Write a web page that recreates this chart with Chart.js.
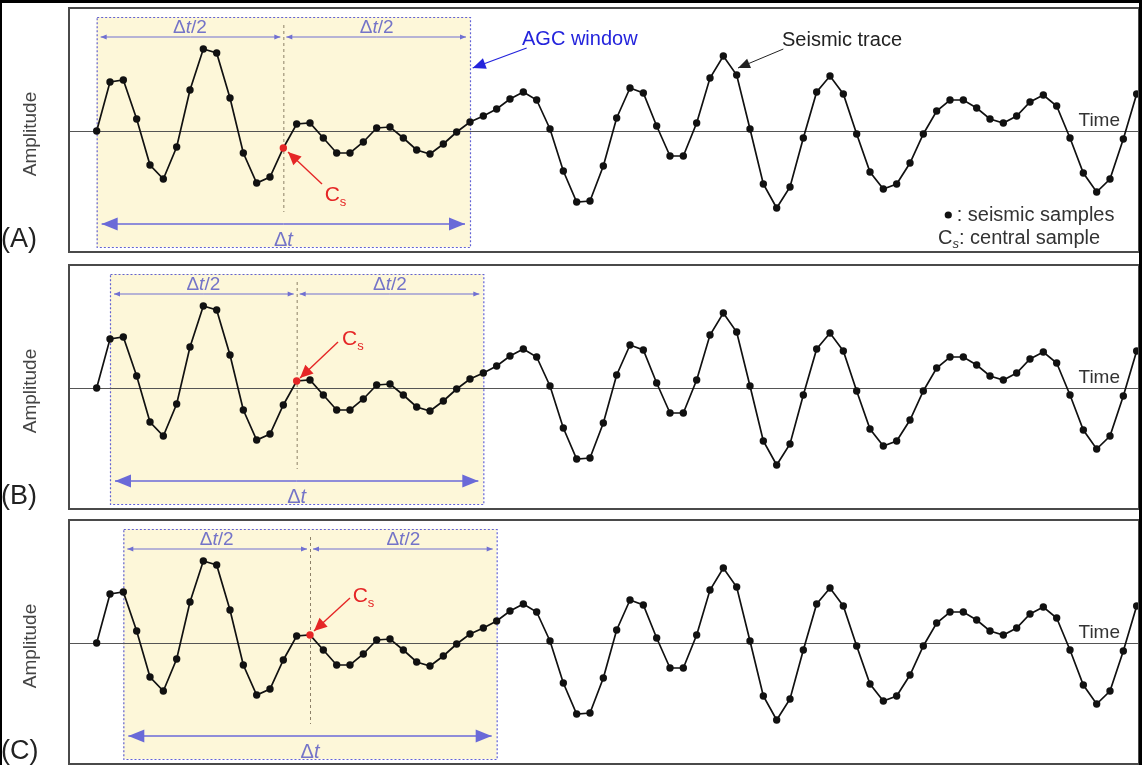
<!DOCTYPE html>
<html lang="en">
<head>
<meta charset="UTF-8">
<title>AGC window on a seismic trace</title>
<script src="https://cdn.jsdelivr.net/npm/chart.js"></script>
<style>
  body { margin: 0; background: #fff; }
  #sheet { position: relative; width: 1142px; height: 765px; overflow: hidden; background: #fff; }
  .panel { position: absolute; left: 0; width: 1142px; height: 255px; }
  #edge { position: absolute; left: 0; top: 0; width: 1142px; height: 765px; box-sizing: border-box;
          border-top: 3px solid #000; border-left: 2px solid #000; border-right: 3px solid #000; pointer-events: none; }
</style>
</head>
<body>
<div id="sheet">
  <div class="panel" style="top:0px"><canvas id="panelA" width="1142" height="255"></canvas></div>
  <div class="panel" style="top:257px"><canvas id="panelB" width="1142" height="255"></canvas></div>
  <div class="panel" style="top:512px"><canvas id="panelC" width="1142" height="255"></canvas></div>
  <div id="edge"></div>
</div>
<script>
// seismic trace, one value per sample (same trace in the three panels)
const amplitude = [0, 49, 51, 12, -34, -48, -16, 41, 82, 78,
                   33, -22, -52, -46, -17, 7, 8, -7, -22, -22,
                   -11, 3, 4, -7, -19, -23, -13, -1, 9, 15,
                   22, 32, 39, 31, 2, -40, -71, -70, -35, 13,
                   43, 38, 5, -25, -25, 8, 53, 75, 56, 2,
                   -53, -77, -56, -7, 39, 55, 37, -3, -41, -58,
                   -53, -32, -3, 20, 31, 31, 23, 12, 8, 15,
                   29, 36, 25, -7, -42, -61, -48, -8, 37];

const panelLabels = ['(A)', '(B)', '(C)'];
const windowStart = [0, 1, 2];      // first sample inside the AGC window
const windowLength = 28;            // samples
const centralSample = [14, 15, 16];

const FONT = '"Liberation Sans", Arial, sans-serif';

function head(ctx, x1, y1, x2, y2, len, half) {
  const a = Math.atan2(y2 - y1, x2 - x1);
  const bx = x2 - len * Math.cos(a), by = y2 - len * Math.sin(a);
  ctx.beginPath();
  ctx.moveTo(x2, y2);
  ctx.lineTo(bx + half * Math.sin(a), by - half * Math.cos(a));
  ctx.lineTo(bx - half * Math.sin(a), by + half * Math.cos(a));
  ctx.closePath();
  ctx.fill();
}

function arrow(ctx, x1, y1, x2, y2, color, width, len, half) {
  ctx.save();
  ctx.strokeStyle = color; ctx.fillStyle = color; ctx.lineWidth = width;
  ctx.beginPath(); ctx.moveTo(x1, y1); ctx.lineTo(x2, y2); ctx.stroke();
  head(ctx, x1, y1, x2, y2, len, half);
  ctx.restore();
}

// writes pieces [text, font, dy] one after another; align 'left' or 'center'
function pieces(ctx, list, x, y, align) {
  let w = 0;
  list.forEach(p => { ctx.font = p[1]; w += ctx.measureText(p[0]).width; });
  let cx = align === 'center' ? x - w / 2 : x;
  ctx.textAlign = 'left';
  list.forEach(p => {
    ctx.font = p[1];
    ctx.fillText(p[0], cx, y + (p[2] || 0));
    cx += ctx.measureText(p[0]).width;
  });
}

const agcPlugin = {
  id: 'agc',
  beforeDatasetsDraw(chart, args, opts) {
    const { ctx, chartArea: ca, scales: { x, y } } = chart;
    const k = opts.panel;
    const s = windowStart[k], c = centralSample[k];
    const x0 = x.getPixelForValue(s), x1 = x.getPixelForValue(s + windowLength), xc = x.getPixelForValue(c);
    const yt = y.getPixelForValue(114), yb = y.getPixelForValue(-116);
    ctx.save();
    // window box
    ctx.fillStyle = '#fdf7d9';
    ctx.fillRect(x0, yt, x1 - x0, yb - yt);
    ctx.setLineDash([2, 2]);
    ctx.strokeStyle = '#6262d4';
    ctx.lineWidth = 1.2;
    ctx.strokeRect(x0 + 0.5, yt + 0.5, x1 - x0, yb - yt);
    // central line
    ctx.setLineDash([3, 3]);
    ctx.strokeStyle = '#8c8068';
    ctx.lineWidth = 1;
    ctx.beginPath();
    ctx.moveTo(xc + 0.5, y.getPixelForValue(106));
    ctx.lineTo(xc + 0.5, y.getPixelForValue(-81));
    ctx.stroke();
    ctx.setLineDash([]);
    // half-window arrows
    const yh = y.getPixelForValue(94);
    const blue = '#7070d2';
    [[x0 + 4, xc - 3], [xc + 3, x1 - 4]].forEach(([a, b]) => {
      arrow(ctx, (a + b) / 2, yh, a, yh, blue, 1.2, 6, 2.5);
      arrow(ctx, (a + b) / 2, yh, b, yh, blue, 1.2, 6, 2.5);
    });
    ctx.fillStyle = '#7474c8';
    ctx.textBaseline = 'middle';
    const ytxt = y.getPixelForValue(103);
    const half = [['\u0394', '19px ' + FONT], ['t', 'italic 19px ' + FONT], ['/2', '19px ' + FONT]];
    pieces(ctx, half, (x0 + xc) / 2, ytxt, 'center');
    pieces(ctx, half, (xc + x1) / 2, ytxt, 'center');
    // full window arrow
    const yd = y.getPixelForValue(-93);
    arrow(ctx, (x0 + x1) / 2, yd, x0 + 5, yd, '#6a6ad8', 1.4, 16, 6.5);
    arrow(ctx, (x0 + x1) / 2, yd, x1 - 5, yd, '#6a6ad8', 1.4, 16, 6.5);
    ctx.fillStyle = '#7474c8';
    pieces(ctx, [['\u0394', '20px ' + FONT], ['t', 'italic 20px ' + FONT]], (x0 + x1) / 2, y.getPixelForValue(-109), 'center');
    // time axis
    ctx.strokeStyle = '#555';
    ctx.lineWidth = 1.2;
    ctx.beginPath();
    ctx.moveTo(ca.left, Math.round(y.getPixelForValue(0)) + 0.5);
    ctx.lineTo(ca.right, Math.round(y.getPixelForValue(0)) + 0.5);
    ctx.stroke();
    ctx.restore();
  },
  afterDatasetsDraw(chart, args, opts) {
    const { ctx, scales: { x, y } } = chart;
    const k = opts.panel;
    const c = centralSample[k];
    ctx.save();
    ctx.textBaseline = 'middle';
    // central sample label
    const cs = opts.cs;
    arrow(ctx, x.getPixelForValue(c + cs.from[0]), y.getPixelForValue(cs.from[1]),
          x.getPixelForValue(c + cs.tip[0]), y.getPixelForValue(cs.tip[1]), '#e52626', 1.4, 13, 6);
    ctx.fillStyle = '#e52626';
    pieces(ctx, [['C', '21px ' + FONT], ['s', '13px ' + FONT, 7]],
           x.getPixelForValue(c + cs.text[0]), y.getPixelForValue(cs.text[1]), 'left');
    // time label
    ctx.fillStyle = '#333';
    ctx.font = '19px ' + FONT;
    ctx.textAlign = 'right';
    ctx.fillText('Time', x.getPixelForValue(76.75), y.getPixelForValue(10));
    if (k === 0) {
      ctx.textAlign = 'left';
      ctx.fillStyle = '#2424dc';
      ctx.font = '20px ' + FONT;
      ctx.fillText('AGC window', x.getPixelForValue(31.9), y.getPixelForValue(92));
      arrow(ctx, x.getPixelForValue(32.25), y.getPixelForValue(83), x.getPixelForValue(28.2), y.getPixelForValue(63), '#2424dc', 1.3, 13, 5.5);
      ctx.fillStyle = '#222';
      ctx.fillText('Seismic trace', x.getPixelForValue(51.4), y.getPixelForValue(91));
      arrow(ctx, x.getPixelForValue(51.5), y.getPixelForValue(82), x.getPixelForValue(48.1), y.getPixelForValue(63), '#222', 1, 12, 5);
      // legend
      ctx.fillStyle = '#111';
      ctx.beginPath();
      ctx.arc(x.getPixelForValue(63.87), y.getPixelForValue(-84), 3.6, 0, Math.PI * 2);
      ctx.fill();
      ctx.fillStyle = '#333';
      ctx.font = '20px ' + FONT;
      ctx.fillText(': seismic samples', x.getPixelForValue(64.5), y.getPixelForValue(-84));
      pieces(ctx, [['C', '20px ' + FONT], ['s', 'italic 13px ' + FONT, 6], [': central sample', '20px ' + FONT]],
             x.getPixelForValue(63.1), y.getPixelForValue(-107), 'left');
    }
    ctx.restore();
  },
  afterDraw(chart, args, opts) {
    const { ctx, chartArea: ca, scales: { y } } = chart;
    ctx.save();
    ctx.strokeStyle = '#4a4a4a';
    ctx.lineWidth = 2;
    ctx.strokeRect(ca.left - 1, ca.top - 1, ca.right - ca.left + 2, ca.bottom - ca.top + 2);
    ctx.fillStyle = '#444';
    ctx.textBaseline = 'middle';
    ctx.textAlign = 'center';
    ctx.font = '19px ' + FONT;
    ctx.translate(31, y.getPixelForValue(0) + 3);
    ctx.rotate(-Math.PI / 2);
    ctx.fillText('Amplitude', 0, 0);
    ctx.restore();
    ctx.save();
    ctx.fillStyle = '#222';
    ctx.font = '27px ' + FONT;
    ctx.textBaseline = 'alphabetic';
    ctx.fillText(panelLabels[opts.panel], 1, 247);
    ctx.restore();
  }
};

const csPlacement = [
  { text: [3.1, -64], from: [2.9, -53], tip: [0.35, -21] },
  { text: [3.4, 49], from: [3.1, 46], tip: [0.25, 10] },
  { text: [3.2, 47], from: [3.0, 45], tip: [0.3, 12] }
];

['panelA', 'panelB', 'panelC'].forEach((id, k) => {
  const pts = amplitude.map((v, i) => ({ x: i, y: v }));
  const colors = amplitude.map((v, i) => i === centralSample[k] ? '#e52626' : '#111');
  new Chart(document.getElementById(id), {
    type: 'line',
    data: {
      datasets: [{
        data: pts,
        borderColor: '#111',
        borderWidth: 1.7,
        pointRadius: 3.7,
        pointBackgroundColor: colors,
        pointBorderColor: colors,
        pointBorderWidth: 0,
        tension: 0,
        clip: 0
      }]
    },
    options: {
      responsive: false,
      animation: false,
      events: [],
      layout: { padding: { left: 70, right: 4, top: 9, bottom: 4 } },
      scales: {
        x: { type: 'linear', display: false, min: -2, max: 78.1 },
        y: { display: false, min: -120, max: 122 }
      },
      plugins: {
        legend: { display: false },
        tooltip: { enabled: false },
        agc: { panel: k, cs: csPlacement[k] }
      }
    },
    plugins: [agcPlugin]
  });
});
</script>
</body>
</html>
